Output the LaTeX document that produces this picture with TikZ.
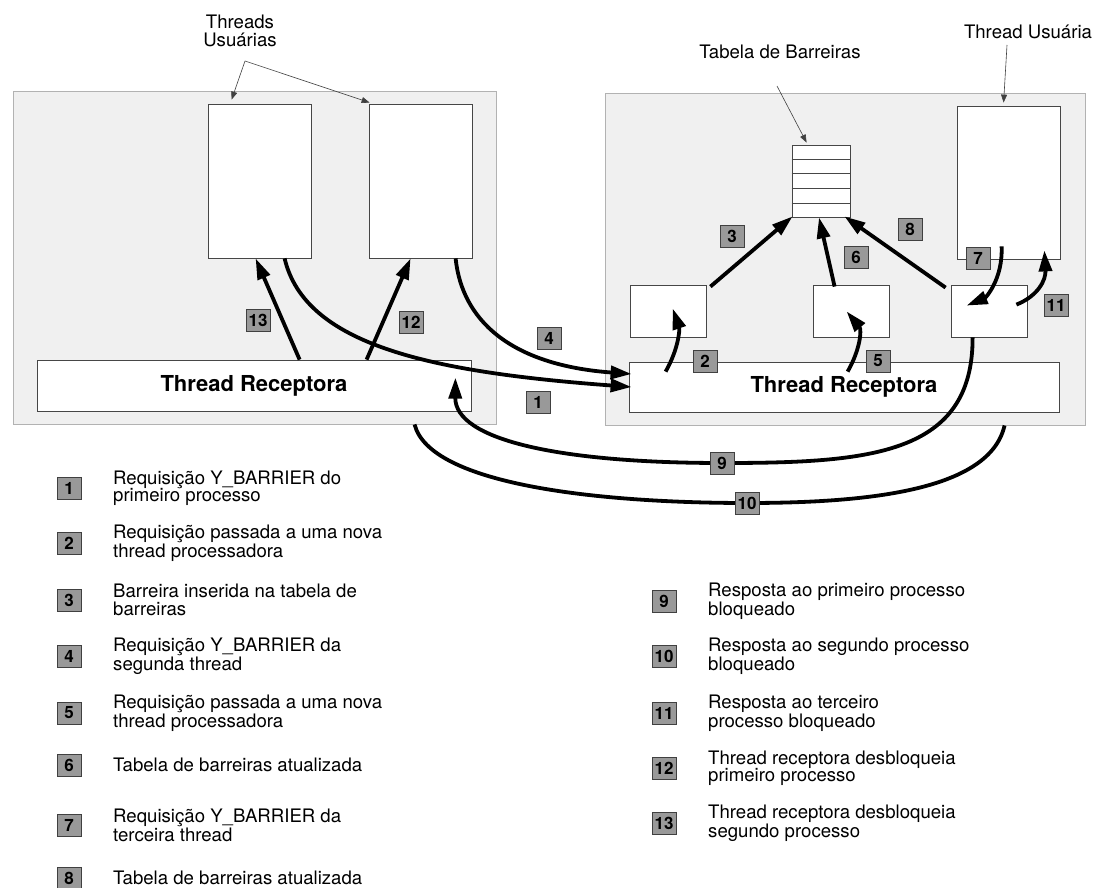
\documentclass[tikz,border=0pt]{standalone}
\usepackage{fontspec}
\setmainfont{TeX Gyre Heros}
\usetikzlibrary{arrows.meta,calc}
\begin{document}
\begin{tikzpicture}[x=1pt,y=-1pt,
  panel/.style={draw=gray!60, line width=0.9pt, fill=gray!12, inner sep=0pt},
  ubox/.style={draw=gray!55!black, line width=0.8pt, fill=white, inner sep=0pt},
  recbox/.style={ubox, font=\fontsize{22}{22}\selectfont\bfseries},
  badge/.style={draw=black!75, line width=0.8pt, fill=black!40, inner sep=0pt,
    minimum width=24pt, minimum height=22pt, font=\fontsize{17}{17}\selectfont\bfseries},
  flow/.style={line width=3.8pt, -{Triangle[length=21pt,width=13pt]}},
  plainflow/.style={line width=3.8pt},
  leader/.style={draw=gray!50!black, line width=0.6pt, -{Triangle[length=8pt,width=6pt]}},
  caption/.style={font=\fontsize{18.6}{18}\selectfont, align=center, inner sep=0pt},
  legtext/.style={font=\fontsize{18.6}{17.5}\selectfont, align=left, anchor=west, inner sep=0pt},
]
\useasboundingbox[fill=white] (0,0) rectangle (1095,888);

% ---------- left process ----------
\node[panel, minimum width=483pt, minimum height=333pt] (lout) at (254.5,257.5) {};
\node[ubox, minimum width=103pt, minimum height=154pt] (boxA) at (259.5,181) {};
\node[ubox, minimum width=103pt, minimum height=154pt] (boxB) at (420.5,181) {};
\node[recbox, minimum width=434pt, minimum height=51pt] (lrec) at (254,385.5) {Thread Receptora};

% ---------- right process ----------
\node[panel, minimum width=480pt, minimum height=332pt] (rout) at (845,259) {};
\node[ubox, minimum width=103pt, minimum height=153pt] (ruser) at (1008.5,182.5) {};
\node[ubox, minimum width=58pt, minimum height=72pt] (tab) at (821,181) {};
\foreach \k in {1,...,4}
  \draw[gray!55!black, line width=0.6pt]
    ($(tab.north west)!\k/5!(tab.south west)$) -- ($(tab.north east)!\k/5!(tab.south east)$);
\node[ubox, minimum width=76pt, minimum height=52pt] (p1) at (668,311) {};
\node[ubox, minimum width=76pt, minimum height=52pt] (p2) at (851,311) {};
\node[ubox, minimum width=76pt, minimum height=52pt] (p3) at (989,311) {};
\node[recbox, minimum width=430pt, minimum height=50pt] (rrec) at (844,387) {Thread Receptora};

% ---------- captions and leader lines ----------
\node[caption] (lblA) at (240,31) {Threads\\Usuárias};
\coordinate (apx) at (245,61);
\draw[leader] (apx) -- ($(boxA.north west)+(24,-4)$);
\draw[leader] (apx) -- ($(boxB.north west)+(1,-1)$);

\node[caption] (lblT) at (780,51.5) {Tabela de Barreiras};
\coordinate (tabsrc) at (777,86);
\draw[leader] (tabsrc) -- ($(tab.north west)+(15,-2)$);

\node[caption] (lblU) at (1028,32) {Thread Usuária};
\coordinate (usrc) at (1007,45);
\draw[leader] (usrc) -- ($(ruser.north west)+(47,-3)$);

% ---------- message flows ----------
\coordinate (m9) at (722,463);
\coordinate (m10) at (747,503);

% 1 and 4: requests travelling to the remote receiver
\draw[flow] ($(boxA.south west)+(77,0)$) .. controls (305,345) and (430,372) .. ($(rrec.west)+(3,0)$);
\draw[flow] ($(boxB.south west)+(87,0)$) .. controls (462,320) and (510,365) .. ($(rrec.west)+(3,-13)$);

% 2 and 5: receiver hands requests to processing threads
\draw[flow] ($(rrec.north west)+(37,10)$) .. controls (678,350) and (680,330) .. ($(p1.south west)+(43,-29)$);
\draw[flow] ($(rrec.north west)+(219,10)$) .. controls (860,350) and (862,330) .. ($(p2.south west)+(34,-26)$);

% 3, 6, 8: barrier table updates
\draw[flow] ($(p1.north east)+(4,2)$) -- ($(tab.south west)+(1,-1)$);
\draw[flow] ($(p2.north west)+(22,2)$) -- ($(tab.south)+(-2,0)$);
\draw[flow] ($(p3.north west)+(-5,3)$) -- ($(tab.south east)+(-6,-1)$);

% 7 and 11: local user thread
\draw[flow] ($(ruser.south west)+(45,-13)$) .. controls (1003,280) and (985,298) .. ($(p3.north west)+(16,21)$);
\draw[flow] ($(p3.north east)+(-11,20)$) .. controls (1038,296) and (1046,280) .. ($(ruser.south east)+(-16,-9)$);

% 12 and 13: receiver unblocks the user threads
\draw[flow] ($(lrec.north west)+(263,0)$) -- ($(boxA.south west)+(48,0)$);
\draw[flow] ($(lrec.north west)+(330,0)$) -- ($(boxB.south west)+(42,0)$);

% 9 and 10: replies back to the first process
\draw[flow] ($(p3.south west)+(22,0)$) .. controls (973,455) and (870,463) .. (m9)
  .. controls (560,463) and (455,440) .. ($(lrec.north east)+(-16,18)$);
\draw[plainflow] ($(rout.south west)+(400,0)$) .. controls (990,490) and (870,503) .. (m10)
  .. controls (600,503) and (430,485) .. ($(lout.south west)+(402,0)$);

% ---------- step badges on the diagram ----------
\node[badge] (b1) at (538,402) {1};
\node[badge] (b2) at (705,361) {2};
\node[badge] (b3) at (732,236) {3};
\node[badge] (b4) at (549,338) {4};
\node[badge] (b5) at (878,361) {5};
\node[badge] (b6) at (856,257) {6};
\node[badge] (b7) at (978,258) {7};
\node[badge] (b8) at (910,229) {8};
\node[badge] (b9) at (m9) {9};
\node[badge] (b10) at (m10) {10};
\node[badge] (b11) at (1056,305) {11};
\node[badge] (b12) at (411,322) {12};
\node[badge] (b13) at (258,320) {13};

% ---------- legend ----------
\foreach \n/\y/\t in {
  1/488/{Requisição Y\_BARRIER do\\primeiro processo},
  2/543/{Requisição passada a uma nova\\thread processadora},
  3/600/{Barreira inserida na tabela de\\barreiras},
  4/656/{Requisição Y\_BARRIER da\\segunda thread},
  5/713/{Requisição passada a uma nova\\thread processadora},
  6/765/{Tabela de barreiras atualizada},
  7/825/{Requisição Y\_BARRIER da\\terceira thread},
  8/878/{Tabela de barreiras atualizada}} {
  \node[badge] (lk\n) at (69,\y) {\n};
  \node[legtext] (lt\n) at (113,\y) {\t};
}
\foreach \n/\y/\t in {
  9/601/{Resposta ao primeiro processo\\bloqueado},
  10/656/{Resposta ao segundo processo\\bloqueado},
  11/713/{Resposta ao terceiro\\processo bloqueado},
  12/768/{Thread receptora desbloqueia\\primeiro processo},
  13/823/{Thread receptora desbloqueia\\segundo processo}} {
  \node[badge] (lk\n) at (664,\y) {\n};
  \node[legtext] (lt\n) at (708,\y) {\t};
}
\end{tikzpicture}
\end{document}
